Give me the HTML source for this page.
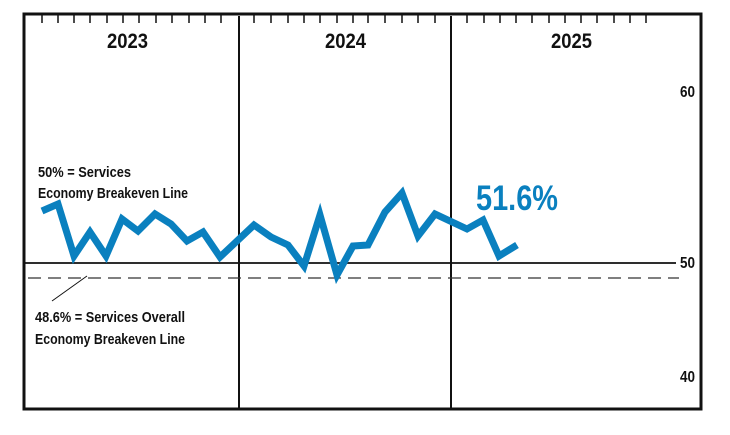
<!DOCTYPE html>
<html><head><style>html,body{margin:0;padding:0;background:#fff;}svg{display:block}</style></head>
<body>
<svg width="730" height="435" viewBox="0 0 730 435" xmlns="http://www.w3.org/2000/svg" font-family="Liberation Sans Narrow, Liberation Sans, sans-serif" font-weight="bold">
<rect x="24" y="14" width="677" height="395" fill="none" stroke="#111" stroke-width="3"/>
<line x1="239" y1="16" x2="239" y2="408" stroke="#111" stroke-width="2"/>
<line x1="451" y1="16" x2="451" y2="408" stroke="#111" stroke-width="2"/>
<g stroke="#111" stroke-width="1.5">
<path d="M42 15V23M58 15V23M74 15V23M90 15V23M107 15V23M123 15V23M139 15V23M156 15V23M172 15V23M189 15V23M205 15V23M221 15V23"/>
<path d="M254 15V23M271 15V23M288 15V23M304 15V23M320 15V23M337 15V23M353 15V23M368 15V23M385 15V23M402 15V23M418 15V23M435 15V23"/>
<path d="M467 15V23M484 15V23M500 15V23M516 15V23M532 15V23M549 15V23M565 15V23M581 15V23M597 15V23M614 15V23M630 15V23M646 15V23"/>
</g>
<line x1="25" y1="263" x2="676" y2="263" stroke="#111" stroke-width="1.8"/>
<line x1="28" y1="278" x2="679" y2="278" stroke="#333" stroke-width="1.2" stroke-dasharray="13,7"/>
<line x1="52" y1="301" x2="87" y2="276" stroke="#111" stroke-width="1"/>
<polyline fill="none" stroke="#0a80bf" stroke-width="7" stroke-linejoin="miter" points="42,211 58,204 74,256 90,232 106,256 122,219 138,231 155,214 171,224 187,241 203,232 220,257 254,225 271,237 288,245 304,266 320,215 337,275 353,246 368,245 385,212 402,193 418,236 435,214 467,229 483,220 499,256 517,245"/>
<g fill="#111" font-size="21">
<text x="107" y="48" textLength="41" lengthAdjust="spacingAndGlyphs">2023</text>
<text x="325" y="48" textLength="41" lengthAdjust="spacingAndGlyphs">2024</text>
<text x="551" y="48" textLength="41" lengthAdjust="spacingAndGlyphs">2025</text>
</g>
<g fill="#111" font-size="16">
<text x="680" y="97" textLength="15" lengthAdjust="spacingAndGlyphs">60</text>
<text x="680" y="268" textLength="15" lengthAdjust="spacingAndGlyphs">50</text>
<text x="680" y="382" textLength="15" lengthAdjust="spacingAndGlyphs">40</text>
</g>
<g fill="#111" font-size="15">
<text x="38" y="177" textLength="93" lengthAdjust="spacingAndGlyphs">50% = Services</text>
<text x="38" y="198" textLength="150" lengthAdjust="spacingAndGlyphs">Economy Breakeven Line</text>
<text x="35" y="322" textLength="150" lengthAdjust="spacingAndGlyphs">48.6% = Services Overall</text>
<text x="35" y="344" textLength="150" lengthAdjust="spacingAndGlyphs">Economy Breakeven Line</text>
</g>
<text x="476" y="210" fill="#0a80bf" font-size="35" textLength="82" lengthAdjust="spacingAndGlyphs">51.6%</text>
</svg>
</body></html>
